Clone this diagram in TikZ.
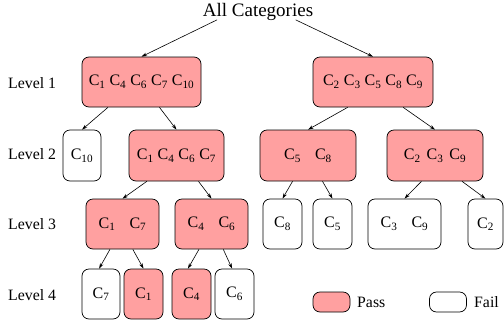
\documentclass[tikz,border=0pt]{standalone}
\usepackage{fontspec}
\setmainfont{Liberation Serif}
\usetikzlibrary{arrows.meta,calc}
\definecolor{passred}{RGB}{255,160,160}
\tikzset{
  cbox/.style={draw, line width=0.7pt, rounded corners=7pt, inner sep=0pt, font=\fontsize{16}{16}\selectfont},
  pass/.style={cbox, fill=passred},
  fail/.style={cbox, fill=white},
  lvl/.style={font=\fontsize{15.8}{16}\selectfont, anchor=west, inner sep=0pt},
  arr/.style={-{Stealth[length=5.5pt,width=3.5pt]}, line width=0.6pt},
}
\newcommand{\Cs}[1]{C\textsubscript{#1}}
\begin{document}
\begin{tikzpicture}[x=1pt,y=-1pt]
\useasboundingbox (0,0) rectangle (504,322);
\node[font=\fontsize{19}{19}\selectfont, inner sep=0pt] (top) at (258,12) {All Categories};

\node[lvl] (lv1) at (8,83) {Level 1};
\node[lvl] (lv2) at (8,154) {Level 2};
\node[lvl] (lv3) at (8,224) {Level 3};
\node[lvl] (lv4) at (8,295) {Level 4};

% level 1
\node[pass, minimum width=119pt, minimum height=50pt] (a) at (141.5,82) {\Cs{1} \Cs{4} \Cs{6} \Cs{7} \Cs{10}};
\node[pass, minimum width=120pt, minimum height=50pt] (b) at (373,82) {\Cs{2} \Cs{3} \Cs{5} \Cs{8} \Cs{9}};
% level 2
\node[fail, minimum width=38pt, minimum height=51pt] (a1) at (82,155.5) {\Cs{10}};
\node[pass, minimum width=95pt, minimum height=51pt] (a2) at (176.5,155.5) {\Cs{1} \Cs{4} \Cs{6} \Cs{7}};
\node[pass, minimum width=96pt, minimum height=51pt] (b1) at (308,155.5) {\Cs{5}\hspace{14pt}\Cs{8}};
\node[pass, minimum width=96pt, minimum height=51pt] (b2) at (435,155.5) {\Cs{2}\hspace{6pt}\Cs{3}\hspace{6pt}\Cs{9}};
% level 3
\node[pass, minimum width=73pt, minimum height=50pt] (a21) at (122.5,224) {\Cs{1}\hspace{14pt}\Cs{7}};
\node[pass, minimum width=73pt, minimum height=50pt] (a22) at (211.5,224) {\Cs{4}\hspace{14pt}\Cs{6}};
\node[fail, minimum width=39pt, minimum height=50pt] (b11) at (282.5,224) {\Cs{8}};
\node[fail, minimum width=39pt, minimum height=50pt] (b12) at (332.5,224) {\Cs{5}};
\node[fail, minimum width=73pt, minimum height=50pt] (b21) at (404.5,224) {\Cs{3}\hspace{14pt}\Cs{9}};
\node[fail, minimum width=35pt, minimum height=50pt] (b22) at (485.5,224) {\Cs{2}};
% level 4
\node[fail, minimum width=38pt, minimum height=50pt] (c1) at (101,294) {\Cs{7}};
\node[pass, minimum width=39pt, minimum height=50pt] (c2) at (143.5,294) {\Cs{1}};
\node[pass, minimum width=39pt, minimum height=50pt] (c3) at (191.5,294) {\Cs{4}};
\node[fail, minimum width=39pt, minimum height=50pt] (c4) at (234.5,294) {\Cs{6}};

% legend
\node[pass, minimum width=37pt, minimum height=20pt] (lp) at (331.5,302) {};
\node[lvl] (lpt) at (357,302) {Pass};
\node[fail, minimum width=37pt, minimum height=20pt] (lf) at (448,302) {};
\node[lvl] (lft) at (474,302) {Fail};

% arrows
\draw[arr] ($(top.south west)!0.13!(top.south east)+(0,-1)$) -- (a.north);
\draw[arr] ($(top.south west)!0.84!(top.south east)+(0,-1)$) -- (b.north);

\draw[arr] ($(a.south west)!0.22!(a.south east)$) -- (a1.north);
\draw[arr] ($(a.south west)!0.65!(a.south east)$) -- (a2.north);
\draw[arr] ($(b.south west)!0.29!(b.south east)$) -- (b1.north);
\draw[arr] ($(b.south west)!0.75!(b.south east)$) -- (b2.north);

\draw[arr] ($(a2.south west)!0.19!(a2.south east)$) -- (a21.north);
\draw[arr] ($(a2.south west)!0.73!(a2.south east)$) -- (a22.north);
\draw[arr] ($(b1.south west)!0.34!(b1.south east)$) -- (b11.north);
\draw[arr] ($(b1.south west)!0.65!(b1.south east)$) -- (b12.north);
\draw[arr] ($(b2.south west)!0.36!(b2.south east)$) -- (b21.north);
\draw[arr] ($(b2.south west)!0.78!(b2.south east)$) -- (b22.north);

\draw[arr] ($(a21.south west)!0.33!(a21.south east)$) -- ($(c1.north west)!0.45!(c1.north east)$);
\draw[arr] ($(a21.south west)!0.64!(a21.south east)$) -- (c2.north);
\draw[arr] ($(a22.south west)!0.33!(a22.south east)$) -- ($(c3.north west)!0.41!(c3.north east)$);
\draw[arr] ($(a22.south west)!0.66!(a22.south east)$) -- ($(c4.north west)!0.44!(c4.north east)$);
\end{tikzpicture}
\end{document}
